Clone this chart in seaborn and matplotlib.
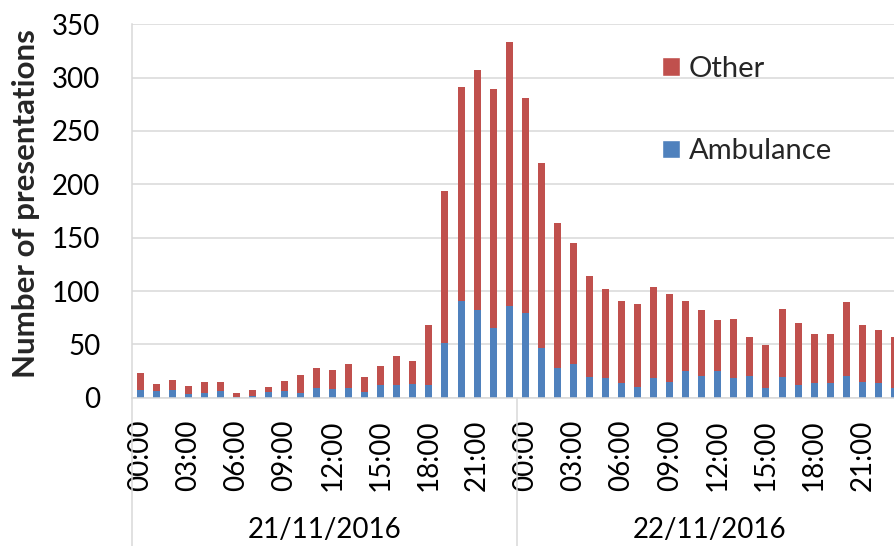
import numpy as np
import pandas as pd
import matplotlib
matplotlib.use("Agg")
import matplotlib.pyplot as plt
import seaborn as sns
from matplotlib.patches import Patch

# Hourly emergency presentations, 21-22 Nov 2016
days = ["21/11/2016", "22/11/2016"]
hour_labels = ["00:00", "01:00", "02:00", "03:00", "04:00", "05:00",
               "06:00", "07:00", "08:00", "09:00", "10:00", "11:00",
               "12:00", "13:00", "14:00", "15:00", "16:00", "17:00",
               "18:00", "19:00", "20:00", "21:00", "22:00", "23:00"]

ambulance = [7, 6, 7, 3, 4, 6, 1, 2, 5, 6, 4, 9,
             8, 9, 5, 12, 12, 13, 12, 51, 91, 82, 65, 86,
             79, 47, 28, 32, 19, 18, 14, 10, 18, 15, 25, 20,
             25, 18, 20, 9, 19, 12, 14, 14, 20, 15, 14, 9]
other = [16, 7, 10, 8, 11, 9, 3, 5, 5, 10, 17, 19,
         18, 23, 14, 18, 27, 21, 56, 143, 200, 225, 224, 247,
         202, 173, 136, 113, 95, 84, 77, 78, 86, 82, 66, 62,
         48, 56, 37, 40, 64, 58, 46, 46, 70, 53, 49, 48]

RED = "#C0504D"
BLUE = "#4F81BD"
GRID = "#D9D9D9"

slots = [f"{d} {h}" for d in days for h in hour_labels]
df = pd.DataFrame({
    "slot": slots,
    "Ambulance": ambulance,
    "Other": other,
})
df["Total"] = df["Ambulance"] + df["Other"]

sns.set_style("white")
plt.rcParams["font.family"] = ["Lato", "DejaVu Sans"]

W, H = 894, 546
fig = plt.figure(figsize=(W / 100, H / 100), dpi=100)
x0, y_base, y_top = 132, 397.7, 24.3
cat_w = 16.05
n = len(slots)
ax = fig.add_axes([x0 / W, 1 - y_base / H, n * cat_w / W, (y_base - y_top) / H])

# stacked bars: full height in red, ambulance share overlaid in blue
sns.barplot(data=df, x="slot", y="Total", order=slots, color=RED,
            saturation=1, width=0.435, errorbar=None, linewidth=0, ax=ax)
sns.barplot(data=df, x="slot", y="Ambulance", order=slots, color=BLUE,
            saturation=1, width=0.435, errorbar=None, linewidth=0, ax=ax)

ax.set_xlim(-0.5, n - 0.5)
ax.set_ylim(0, 350)
ax.set_yticks(np.arange(0, 351, 50))
ax.yaxis.grid(True, color=GRID, linewidth=1.1)
ax.set_axisbelow(True)

for side in ["top", "right"]:
    ax.spines[side].set_visible(False)
for side in ["left", "bottom"]:
    ax.spines[side].set_color(GRID)
    ax.spines[side].set_linewidth(1.1)

ax.tick_params(axis="y", length=7.2, width=1.1, color=GRID, pad=15.5,
               labelsize=20, labelcolor="black")

# hour labels every third hour, separators between every category
ax.set_xticks(np.arange(0, n, 3))
ax.set_xticklabels((hour_labels * 2)[::3], rotation=90)
ax.set_xticks(np.arange(-0.5, n, 1), minor=True)
ax.tick_params(axis="x", which="major", length=0, pad=15.5,
               labelsize=20, labelcolor="black")
ax.tick_params(axis="x", which="minor", length=68, width=1.1, color=GRID)
ax.set_xlabel("")
ax.set_ylabel("")

# day group boundaries and labels
xt = ax.get_xaxis_transform()
for b in [-0.5, 23.5, 47.5]:
    ax.plot([b, b], [0, -0.45], color=GRID, linewidth=1.1,
            transform=xt, clip_on=False)
for i, d in enumerate(days):
    ax.text(i * 24 + 11.5, -0.354, d, transform=xt, ha="center",
            va="center", fontsize=20, color="black")

fig.text(26 / W, 1 - 204 / H, "Number of presentations", rotation=90,
         ha="center", va="center", fontsize=22.5, fontweight="bold")

handles = [Patch(facecolor=RED, label="Other"),
           Patch(facecolor=BLUE, label="Ambulance")]
fig.legend(handles=handles, loc="upper left",
           bbox_to_anchor=(662 / W, 1 - 56 / H), frameon=False,
           borderpad=0, borderaxespad=0, handlelength=0.62,
           handleheight=0.62, handletextpad=0.3, labelspacing=1.93,
           fontsize=21)

fig.savefig("out.png", dpi=100)
